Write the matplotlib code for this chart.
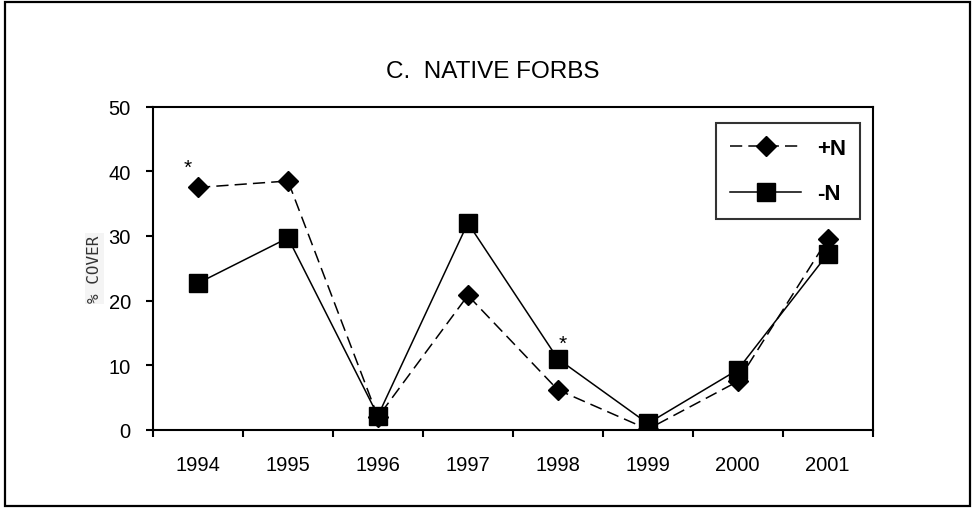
import numpy as np
import matplotlib.pyplot as plt
from matplotlib.patches import Rectangle

plt.rcParams['font.family'] = ['Liberation Sans', 'DejaVu Sans']

years = ['1994', '1995', '1996', '1997', '1998', '1999', '2000', '2001']
plus_n = [37.5, 38.5, 2.0, 20.8, 6.2, 0.1, 7.5, 29.5]
minus_n = [22.7, 29.7, 2.2, 32.0, 11.0, 1.0, 9.3, 27.2]
# significance stars: (x position in category units, baseline y)
star_x = [-0.11, 4.05]
star_y = [39.8, 12.6]

fig = plt.figure(figsize=(9.75, 5.1), dpi=100)
fig.patches.append(Rectangle((0.005, 0.005), 0.99, 0.99, transform=fig.transFigure,
                             fill=False, edgecolor='black', linewidth=1.6))

ax = fig.add_axes([0.157, 0.155, 0.738, 0.634])
x = np.arange(len(years))

ax.plot(x, plus_n, color='black', linestyle=(0, (8, 4)), linewidth=1.1,
        marker='D', markersize=10.5, label='+N')
ax.plot(x, minus_n, color='black', linestyle='-', linewidth=1.1,
        marker='s', markersize=13, label='-N')

for sx, sy in zip(star_x, star_y):
    ax.text(sx, sy, '*', ha='center', va='baseline', fontsize=15)

ax.set_xlim(-0.5, len(years) - 0.5)
ax.set_ylim(0, 50)
ax.set_yticks([0, 10, 20, 30, 40, 50])
ax.set_xticks(x)
ax.set_xticklabels(years)
ax.set_xticks(np.arange(-0.5, len(years)), minor=True)
ax.tick_params(axis='x', which='major', length=0, labelsize=14.5, pad=18)
ax.tick_params(axis='x', which='minor', length=5, width=1.5, direction='out')
ax.tick_params(axis='y', length=5, width=1.5, direction='out', labelsize=14.5, pad=11)
for s in ax.spines.values():
    s.set_linewidth(1.5)

fig.text(0.505, 1 - 78 / 510, 'C.  NATIVE FORBS', ha='center', va='baseline', fontsize=17.5)
ax.set_ylabel('% COVER', family='DejaVu Sans Mono', fontsize=11.5, color='#333333',
              bbox=dict(facecolor='#f4f4f4', edgecolor='none', pad=1.5))
ax.yaxis.set_label_coords(-0.071, 0.5)

leg = ax.legend(loc='upper left', bbox_to_anchor=(0.782, 0.948), frameon=True,
                fancybox=False, edgecolor='black', handlelength=3.2,
                borderpad=0.65, labelspacing=1.1, handletextpad=0.7,
                borderaxespad=0, prop={'weight': 'bold', 'size': 16})
leg.get_frame().set_linewidth(1.5)

fig.savefig('out.png', dpi=100)
